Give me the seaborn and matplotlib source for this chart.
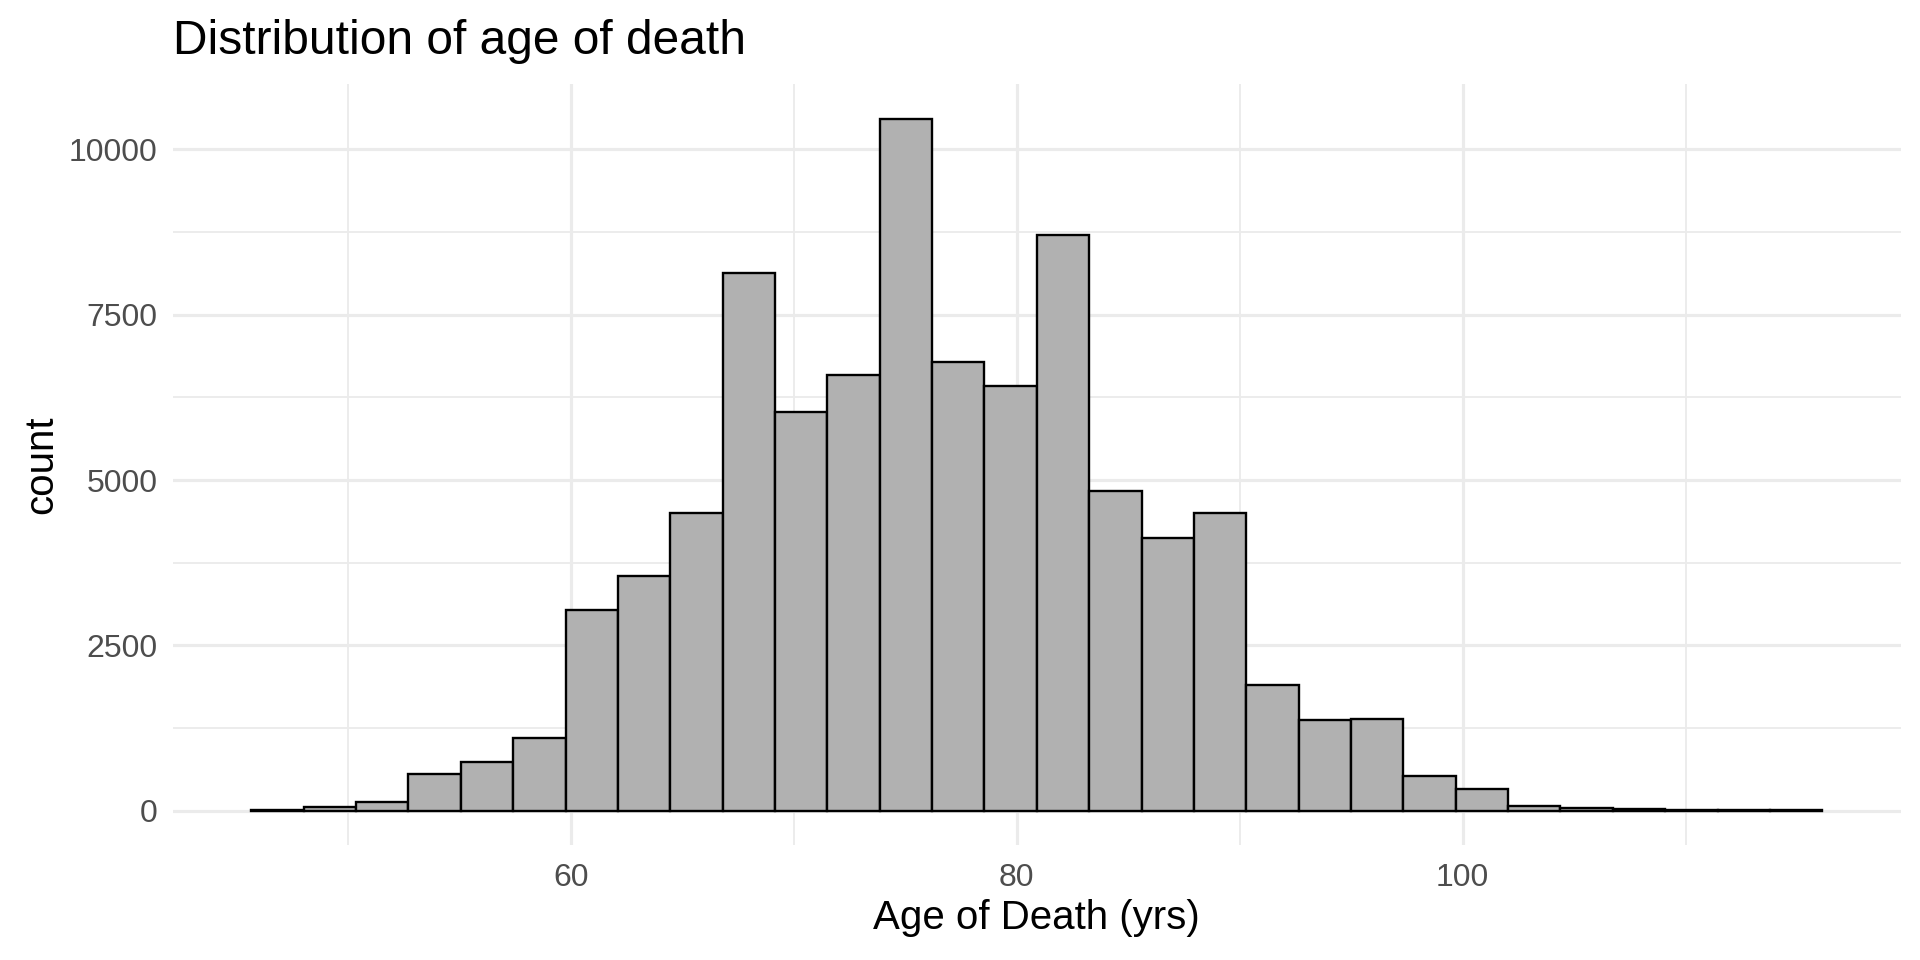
import numpy as np
import pandas as pd
import matplotlib
matplotlib.use("Agg")
import matplotlib.pyplot as plt
import seaborn as sns

# ---- data ----
bin_start = 45.66      # left edge of first bin (yrs)
bin_width = 2.349      # bin width (yrs)
counts = [15, 60, 136, 555, 740, 1100, 3040, 3550, 4500, 8130,
          6035, 6590, 10460, 6780, 6430, 8700, 4835, 4130, 4505, 1905,
          1372, 1387, 518, 326, 78, 45, 28, 12, 8, 5]
x_major = [60, 80, 100]
x_minor = [50, 70, 90, 110]
y_major = [0, 2500, 5000, 7500, 10000]
y_minor = [1250, 3750, 6250, 8750]

n_bins = len(counts)
edges = bin_start + bin_width * np.arange(n_bins + 1)
centers = (edges[:-1] + edges[1:]) / 2
df = pd.DataFrame({"age": centers, "n": counts})

sns.set_theme(style="white")
plt.rcParams["font.family"] = ["Liberation Sans", "DejaVu Sans"]

fig = plt.figure(figsize=(19.2, 9.6), dpi=100)
ax = fig.add_axes([0.090, 0.1195, 0.900, 0.7925])

grid_c = "#EBEBEB"
for v in x_minor:
    ax.axvline(v, color=grid_c, lw=1.3, zorder=0)
for v in x_major:
    ax.axvline(v, color=grid_c, lw=2.3, zorder=0)
for v in y_minor:
    ax.axhline(v, color=grid_c, lw=1.3, zorder=0)
for v in y_major:
    ax.axhline(v, color=grid_c, lw=2.3, zorder=0)

sns.histplot(data=df, x="age", weights="n", bins=[float(e) for e in edges],
             ax=ax, color="#B1B1B1", alpha=1.0, edgecolor="black",
             linewidth=1.7, zorder=2)

span = edges[-1] - edges[0]
ax.set_xlim(edges[0] - 0.05 * span, edges[-1] + 0.05 * span)
ymax = max(counts)
ax.set_ylim(-0.05 * ymax, 1.05 * ymax)

ax.set_xticks(x_major)
ax.set_xticklabels([str(v) for v in x_major])
ax.set_yticks(y_major)
ax.set_yticklabels([str(v) for v in y_major])
ax.tick_params(axis="both", length=0, labelsize=23, colors="#4D4D4D")
ax.tick_params(axis="y", pad=11)
ax.tick_params(axis="x", pad=13)

for s in ax.spines.values():
    s.set_visible(False)
ax.grid(False)

ax.set_xlabel("Age of Death (yrs)", fontsize=29, color="black", labelpad=4)
ax.set_ylabel("count", fontsize=29, color="black", labelpad=6)
ax.set_title("Distribution of age of death", fontsize=34.5, color="black",
             loc="left", pad=22)

fig.savefig("out.png", dpi=100, facecolor="white")
